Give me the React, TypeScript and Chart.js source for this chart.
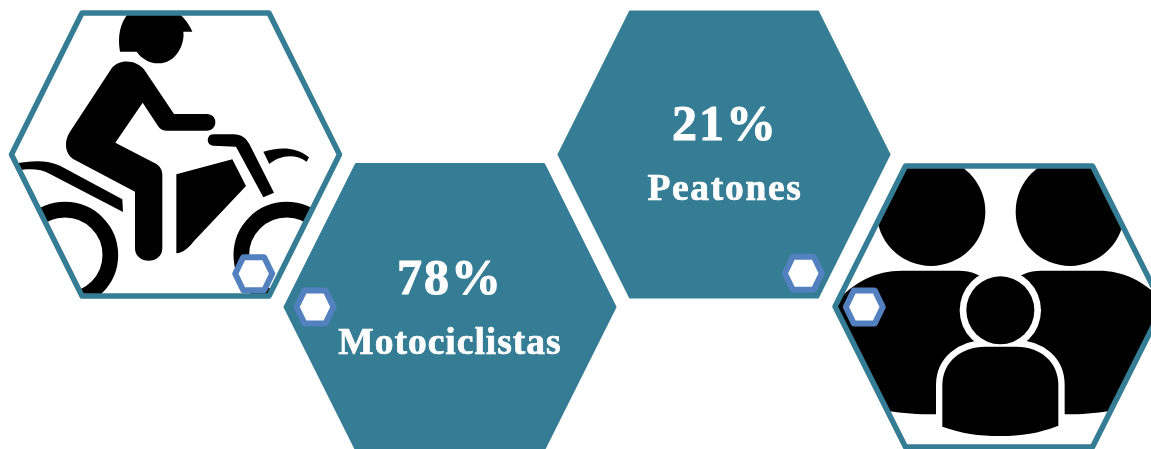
import React, { useEffect, useRef } from "react";
import { Chart, registerables } from "chart.js";

Chart.register(...registerables);

// Data
const categories = ["Motociclistas", "Peatones"];
const percentages = [78, 21];
// Honeycomb grid cells of each tile
const statColumns = [1, 2];
const statRows = [1, 0];
const iconNames = ["moto", "people"];
const iconColumns = [0, 3];
const iconRows = [0, 1];

const TEAL = "#357D94";
const BLUE = "#5380BF";
const HALF = 180;
const HALF_H = 160;
const LABEL_TRACKING = ["1px", "1.7px"];

type Ctx = CanvasRenderingContext2D;

function hexPath(ctx: Ctx, cx: number, cy: number, hw: number, top: number, hh: number) {
  ctx.beginPath();
  ctx.moveTo(cx - top, cy - hh);
  ctx.lineTo(cx + top, cy - hh);
  ctx.lineTo(cx + hw, cy);
  ctx.lineTo(cx + top, cy + hh);
  ctx.lineTo(cx - top, cy + hh);
  ctx.lineTo(cx - hw, cy);
  ctx.closePath();
}

function mini(ctx: Ctx, cx: number, cy: number) {
  hexPath(ctx, cx, cy, 18.5, 10.5, 16.5);
  ctx.fillStyle = "#ffffff";
  ctx.fill();
  ctx.lineWidth = 6;
  ctx.lineJoin = "round";
  ctx.strokeStyle = BLUE;
  ctx.stroke();
}

function makeCanvas() {
  const c = document.createElement("canvas");
  c.width = HALF * 2;
  c.height = HALF_H * 2;
  const ctx = c.getContext("2d") as Ctx;
  ctx.translate(HALF, HALF_H);
  return { c, ctx };
}

function statTile(cx: number, cy: number, mx: number, my: number) {
  const { c, ctx } = makeCanvas();
  hexPath(ctx, cx, cy, 165.5, 94, 143);
  ctx.fillStyle = TEAL;
  ctx.strokeStyle = TEAL;
  ctx.lineWidth = 2;
  ctx.lineJoin = "round";
  ctx.fill();
  ctx.stroke();
  mini(ctx, mx, my);
  return c;
}

function drawMoto(ctx: Ctx) {
  const paths = [
    "M360 155 C352 110 360 70 385 40 L535 40 C555 55 568 75 577 95 L550 95 C555 130 530 190 475 190 C445 190 425 175 410 155 Z",
    "M335 205 C355 178 410 175 437 215 L522 342 L620 342 C655 342 655 392 620 392 L500 392 C485 392 478 385 472 375 L428 308 L346 428 L465 490 C480 498 487 510 487 525 L487 745 C487 795 405 795 405 745 L405 575 L225 480 C195 465 190 425 210 395 Z",
    "M529 523 L697 478 L738 558 L580 725 C565 745 548 758 529 760 Z",
    "M640 403 L700 403 C725 403 738 415 748 432 L822 578 L790 592 L708 440 L640 437 C618 437 618 403 640 403 Z",
    "M790 455 C830 445 880 435 927 472 L920 485 C885 460 840 465 808 492 Z",
    "M40 492 C100 480 140 480 180 497 L367 598 L369 636 L150 522 C120 505 90 505 40 512 Z",
  ];
  ctx.fillStyle = "#000000";
  for (const p of paths) ctx.fill(new Path2D(p));
  ctx.strokeStyle = "#000000";
  ctx.lineWidth = 47;
  for (const wx of [195, 860]) {
    ctx.beginPath();
    ctx.arc(wx, 765, 136, 0, Math.PI * 2);
    ctx.stroke();
  }
}

function drawPeople(ctx: Ctx) {
  ctx.fillStyle = "#000000";
  for (const hx of [318, 735]) {
    ctx.beginPath();
    ctx.arc(hx, 170, 163, 0, Math.PI * 2);
    ctx.fill();
  }
  ctx.fill(new Path2D("M-20 745 L-20 500 C60 400 130 347 230 347 L400 347 C480 347 520 400 520 500 L520 778 L330 778 C280 778 230 775 190 768 Z"));
  ctx.fill(new Path2D("M1070 745 L1070 500 C990 400 920 347 820 347 L650 347 C570 347 530 400 530 500 L530 778 L720 778 C770 778 810 775 855 768 Z"));
  const childBody = new Path2D("M352 815 L352 690 C352 620 410 575 480 575 L575 575 C645 575 700 620 700 690 L700 812 C640 835 590 843 525 843 C460 843 410 835 352 815 Z");
  ctx.fillStyle = "#ffffff";
  ctx.beginPath();
  ctx.arc(526, 466, 122, 0, Math.PI * 2);
  ctx.fill();
  ctx.strokeStyle = "#ffffff";
  ctx.lineWidth = 38;
  ctx.stroke(childBody);
  ctx.fillStyle = "#000000";
  ctx.beginPath();
  ctx.arc(526, 466, 102, 0, Math.PI * 2);
  ctx.fill();
  ctx.fill(childBody);
}

function iconTile(name: string) {
  const { c, ctx } = makeCanvas();
  const isMoto = name === "moto";
  const cx = isMoto ? 0.5 : -1;
  const cy = isMoto ? 1.5 : -0.5;
  const top = 93.5;
  const hh = isMoto ? 141.5 : 140.5;
  const hw = 164;
  ctx.save();
  hexPath(ctx, cx, cy, hw, top, hh);
  ctx.clip();
  ctx.fillStyle = "#ffffff";
  ctx.fillRect(-HALF, -HALF_H, HALF * 2, HALF_H * 2);
  if (isMoto) {
    ctx.translate(-175, -153);
    ctx.scale(1 / 3, 1 / 3);
    drawMoto(ctx);
  } else {
    ctx.translate(825 - 1000, 155 - 307);
    ctx.scale(1 / 3, 1 / 3);
    drawPeople(ctx);
  }
  ctx.restore();
  hexPath(ctx, cx, cy, hw, top, hh);
  ctx.strokeStyle = TEAL;
  ctx.lineWidth = 5.5;
  ctx.lineJoin = "round";
  ctx.stroke();
  if (isMoto) mini(ctx, 78.7, 120.7);
  else mini(ctx, -135.7, 0);
  return c;
}

const textPlugin = {
  id: "tileText",
  afterDatasetsDraw(chart: Chart) {
    const ctx = chart.ctx;
    const meta = chart.getDatasetMeta(0);
    ctx.save();
    ctx.fillStyle = "#ffffff";
    ctx.strokeStyle = "#ffffff";
    ctx.lineJoin = "round";
    ctx.textAlign = "center";
    ctx.textBaseline = "alphabetic";
    meta.data.forEach((pt: any, i: number) => {
      ctx.font = "bold 50px 'Liberation Serif'";
      (ctx as any).letterSpacing = "2px";
      ctx.lineWidth = 1;
      ctx.strokeText(`${percentages[i]}%`, pt.x, pt.y - 13);
      ctx.fillText(`${percentages[i]}%`, pt.x, pt.y - 13);
      ctx.font = "bold 37.5px 'Liberation Serif'";
      (ctx as any).letterSpacing = LABEL_TRACKING[i];
      ctx.lineWidth = 0.7;
      ctx.strokeText(categories[i], pt.x, pt.y + 47);
      ctx.fillText(categories[i], pt.x, pt.y + 47);
    });
    ctx.restore();
  },
};

export default function App() {
  const ref = useRef<HTMLCanvasElement>(null);
  useEffect(() => {
    if (!ref.current) return;
    const statStyles = [statTile(0, 0, -135, 0), statTile(-1, 1.5, 78.3, 120.3)];
    const iconStyles = iconNames.map(iconTile);
    const chart = new Chart(ref.current, {
      type: "scatter",
      data: {
        datasets: [
          {
            label: "Porcentaje",
            data: percentages.map((_, i) => ({ x: statColumns[i], y: statRows[i] })),
            pointStyle: statStyles as any,
            pointRadius: 5,
            order: 2,
          },
          {
            label: "Iconos",
            data: iconNames.map((_, i) => ({ x: iconColumns[i], y: iconRows[i] })),
            pointStyle: iconStyles as any,
            pointRadius: 5,
            order: 1,
          },
        ],
      },
      options: {
        animation: false,
        responsive: false,
        events: [],
        layout: { padding: 0, autoPadding: false },
        plugins: { legend: { display: false }, tooltip: { enabled: false }, title: { display: false } },
        scales: {
          x: { type: "linear", display: false, min: -175 / 275, max: (1151 - 175) / 275 },
          y: { type: "linear", display: false, reverse: true, min: -153 / 154, max: (449 - 153) / 154 },
        },
      },
      plugins: [textPlugin],
    });
    return () => chart.destroy();
  }, []);
  return (
    <div style={{ position: "absolute", left: 0, top: 0, width: 1151, height: 449, background: "#ffffff" }}>
      <canvas ref={ref} width={1151} height={449} style={{ display: "block" }} />
    </div>
  );
}
